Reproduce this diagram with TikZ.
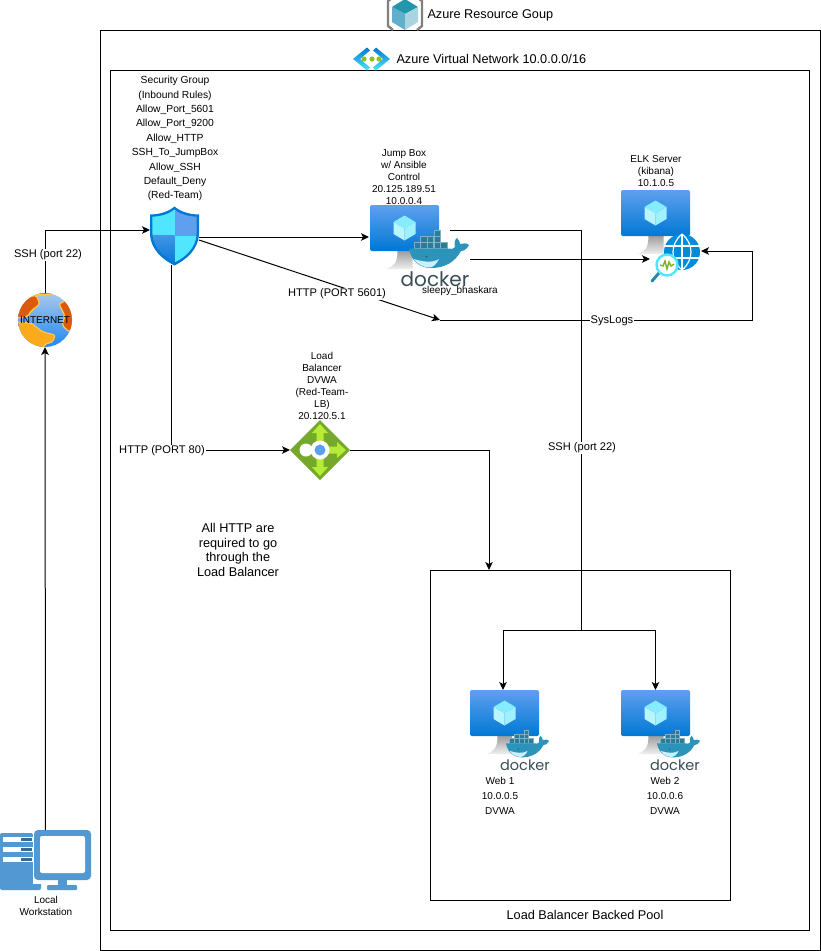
\documentclass[tikz,border=0pt]{standalone}
\usepackage{fontspec}
\setmainfont{Liberation Sans}
\newfontfamily\dockerfont{Poppins}
\usetikzlibrary{arrows.meta}

\definecolor{azuretop}{HTML}{5EA0EF}
\definecolor{azurelow}{HTML}{0078D4}
\definecolor{cyanlight}{HTML}{50E6FF}
\definecolor{dockerink}{HTML}{384D54}
\definecolor{whaleblue}{HTML}{2C94BA}
\definecolor{crate}{HTML}{2B7C99}
\definecolor{pcblue}{HTML}{5299D3}
\definecolor{lbgreen}{HTML}{76A82C}
\definecolor{lblight}{HTML}{B4EC36}
\definecolor{landdark}{HTML}{DE5A0B}
\definecolor{landlight}{HTML}{FBAA1B}
\definecolor{landedge}{HTML}{FFC94F}
\definecolor{oceantop}{HTML}{A9C8E8}
\definecolor{oceanlow}{HTML}{1E88F5}

\tikzset{
  arr/.style={-{Stealth[length=8pt,width=7.5pt,inset=2pt]}},
  frame/.style={draw, line width=1pt},
  spot/.style={inner sep=0pt, outer sep=0pt},
  lbl/.style={font=\fontsize{10}{12}\selectfont, align=center, text=black, inner sep=0pt},
  rules/.style={font=\fontsize{10.3}{14.4}\selectfont, align=center, text=black, inner sep=0pt},
  flow/.style={font=\fontsize{11.1}{14}\selectfont, fill=white, text=black, inner sep=1pt},
  title/.style={font=\fontsize{12.7}{14.5}\selectfont, text=black, inner sep=0pt},
  dockerword/.style={text=dockerink, inner sep=0pt},
  pics/cube/.style={code={
    \fill[#1!40!white] (0,0) -- (0,12.5) -- (-11,6) -- (-11,-6) -- cycle;
    \fill[#1!55!white] (0,0) -- (0,12.5) -- (11,6) -- (11,-6) -- cycle;
    \fill[#1!70!white] (0,0) -- (-11,-6) -- (0,-12.5) -- (11,-6) -- cycle;
  }},
  pics/vmicon/.style={code={
    \shade[top color=black!40, bottom color=black!6]
      (-7,22) -- (8,22) -- (8,41) -- (-18,41) .. controls (-10,38) and (-7,35) .. (-7,22) -- cycle;
    \shade[top color=azuretop, bottom color=azurelow, rounded corners=2pt]
      (-34.5,-23) rectangle (34.5,23);
    \path (0,0) pic {cube=cyanlight};
  }},
  pics/whale/.style={code={
    \foreach \x/\y in {4.7/11.9,11.4/11.9,18/11.9,24.7/11.9,31.3/11.9,11.4/5.9,18/5.9,24.7/5.9,24.7/0}
      \filldraw[fill=crate, draw=crate!60!white, line width=0.3pt] (\x,\y) rectangle +(6.6,6);
    \fill[whaleblue] (0,18.5) -- (39,18.5) .. controls (42,19.5) and (45,19) .. (46,17)
      .. controls (45,13) and (46,9) .. (48,8) .. controls (50,10) and (51,12) .. (51,14)
      .. controls (54,13) and (58,13) .. (60,15) .. controls (58,19) and (55,21) .. (52,21)
      .. controls (46,32) and (36,38) .. (22,38) .. controls (10,38) and (2,30) .. (0,18.5) -- cycle;
    \fill[white!80!cyan] (5,29) .. controls (14,32) and (24,33) .. (30,29)
      .. controls (27,35) and (24,37) .. (21,37.5) .. controls (14,37.5) and (8,34) .. (5,29) -- cycle;
    \fill[dockerink] (17.5,26.5) circle (1pt);
  }},
  pics/shieldicon/.style={code={
    \def\shieldpath{(0,-29) .. controls (-7,-23) and (-17,-21) .. (-24.5,-21) -- (-24.5,-3)
      .. controls (-24.5,15) and (-10,25) .. (0,30) .. controls (10,25) and (24.5,15) .. (24.5,-3)
      -- (24.5,-21) .. controls (17,-21) and (7,-23) .. (0,-29) -- cycle}
    \fill[azurelow] \shieldpath;
    \begin{scope}
      \clip[scale=0.9] \shieldpath;
      \fill[cyanlight] (-26,-30) rectangle (0,0);
      \fill[azuretop] (0,-30) rectangle (26,0);
      \shade[top color=azuretop!70!azurelow, bottom color=azurelow] (-26,0) rectangle (0,30);
      \fill[cyanlight] (0,0) rectangle (26,30);
    \end{scope}
  }},
  pics/earth/.style={code={
    \begin{scope}
      \clip (0,0) circle (27);
      \shade[top color=oceantop, bottom color=oceanlow] (-27,-27) rectangle (27,27);
      \begin{scope}[draw=landedge, line width=1.2pt, rounded corners=2pt]
        \filldraw[fill=landdark] (-14,-30) -- (-11,-25) -- (8,-26) -- (16,-30) -- cycle;
        \filldraw[fill=landdark] (-30,-2) -- (-24,-20) -- (-9,-25) -- (-5,-16) -- (-13,-10) -- (-18,-3) -- cycle;
        \filldraw[fill=landdark] (14,-16) -- (22,-20) -- (31,-6) -- (29,10) -- (24,12) -- (17,5) -- (20,-4) -- cycle;
        \filldraw[fill=landlight] (-31,2) -- (-14,3) -- (-2,12) -- (10,15) -- (8,22) -- (0,24) -- (-3,31) -- (-31,31) -- cycle;
      \end{scope}
    \end{scope}
  }},
  pics/lbicon/.style={code={
    \fill[lbgreen] (-30,0) -- (0,-30) -- (30,0) -- (0,30) -- cycle;
    \foreach \a in {0,90,270}
      \fill[lblight, rotate=\a] (0,-3.5) -- (17,-3.5) -- (17,-8) -- (26,0) -- (17,8) -- (17,3.5) -- (0,3.5) -- cycle;
    \fill[white] (-14,0) circle (6.5);
    \fill[white] (-14,-3) rectangle (0,3);
    \fill[white] (0,0) circle (9.5);
    \fill[azuretop] (0,0) circle (5.5);
  }},
  pics/elkbadge/.style={code={
    \fill[azurelow!85!cyan] (0,0) circle (18);
    \begin{scope}[white, line width=1.2pt]
      \draw (-18,-6) -- (18,-6) (-18,6) -- (18,6);
      \draw (0,-18) -- (0,18);
      \draw (0,-18) .. controls (-12,-8) and (-12,8) .. (0,18);
      \draw (0,-18) .. controls (12,-8) and (12,8) .. (0,18);
    \end{scope}
    \draw[crate!90!cyan, line width=3pt, line cap=round] (-23,21) -- (-30,29);
    \filldraw[fill=white, draw=cyanlight, line width=2.4pt] (-15,13) circle (10.5);
    \draw[lbgreen!90!lime, line width=1.4pt] (-22,13) -- (-19,14) -- (-17,9) -- (-15,17) -- (-13,10) -- (-11,14) -- (-8,12);
  }},
  pics/pcicon/.style={code={
    \fill[pcblue, rounded corners=2pt] (0,3) -- (33,3) -- (33,50) -- (41,52) -- (41,60) -- (0,60) -- cycle;
    \foreach \y in {7,17,27} {
      \fill[white] (3,\y) rectangle (33,\y+5);
      \fill[pcblue!70!black] (21,\y+1) rectangle (32,\y+4);
    }
    \fill[white] (33,-1) rectangle (41,54);
    \fill[pcblue, rounded corners=4pt] (34,0) rectangle (91,50);
    \fill[white, rounded corners=2pt] (40,6) rectangle (85,43);
    \fill[pcblue] (58,50) rectangle (67,55);
    \fill[pcblue, rounded corners=1pt] (47,55) rectangle (77,60);
  }},
}

\begin{document}
\begin{tikzpicture}[x=1pt, y=-1pt, line width=1pt]
  \useasboundingbox (0,0) rectangle (821,951);

  % containers
  \node[frame, spot, anchor=north west, minimum width=720pt, minimum height=920pt] (group) at (100,30) {};
  \node[frame, spot, anchor=north west, minimum width=699pt, minimum height=860pt] (vnet) at (110,70) {};
  \node[frame, spot, anchor=north west, minimum width=300pt, minimum height=330pt] (pool) at (430,570) {};

  % group and network headers
  \fill[crate!80!cyan] (405,-1) -- (418,7) -- (405,14) -- (392,7) -- cycle;
  \fill[whaleblue!75!white] (392,7) -- (405,14) -- (405,30) -- (392,22) -- cycle;
  \fill[whaleblue!40!white] (418,7) -- (405,14) -- (405,30) -- (418,22) -- cycle;
  \draw[black!50, line width=2.4pt] (392,-2) -- (388,1) -- (388,26) -- (393,30);
  \draw[black!50, line width=2.4pt] (418,-2) -- (422,1) -- (422,26) -- (417,30);
  \node[title, anchor=west] (grouptitle) at (427,15) {Azure Resource Goup};
  \shade[top color=azurelow, bottom color=cyanlight] (353,59) -- (367,47.5) -- (370,50.5) -- (360,59) -- (370,67.5) -- (367,70.5) -- cycle;
  \shade[top color=azurelow, bottom color=cyanlight] (390,59) -- (376,47.5) -- (373,50.5) -- (383,59) -- (373,67.5) -- (376,70.5) -- cycle;
  \foreach \x in {364,372,379}
    \fill[lbgreen!70!lime] (\x,59) circle (2.6);
  \node[title, anchor=west] (vnettitle) at (396,59) {Azure Virtual Network 10.0.0.0/16};

  % icons
  \node[spot, minimum width=49pt, minimum height=59pt] (shield) at (174.5,235.5) {};
  \path (shield.center) pic {shieldicon};
  \node[spot, minimum width=69pt, minimum height=46pt] (jump) at (404.5,228) {};
  \path (jump.center) pic {vmicon};
  \node[spot, minimum width=69pt, minimum height=46pt] (elk) at (655.5,213) {};
  \path (elk.center) pic {vmicon};
  \path (682,252) pic {elkbadge};
  \node[spot, minimum width=69pt, minimum height=46pt] (webone) at (504.5,713) {};
  \path (webone.center) pic {vmicon};
  \node[spot, minimum width=69pt, minimum height=46pt] (webtwo) at (655.5,713) {};
  \path (webtwo.center) pic {vmicon};
  \node[spot, minimum width=54pt, minimum height=54pt] (inet) at (45,320) {};
  \path (inet.center) pic {earth};
  \node[spot, minimum width=60pt, minimum height=60pt] (lb) at (320,450) {};
  \path (lb.center) pic {lbicon};
  \node[spot, minimum width=91pt, minimum height=60pt] (local) at (45.5,860) {};
  \path (0,830) pic {pcicon};

  % ports
  \coordinate (shieldin) at (150,230);
  \coordinate (shieldjump) at (199,237);
  \coordinate (shieldhttp) at (199,240);
  \coordinate (shieldlow) at (171,265);
  \coordinate (jumpin) at (369,237);
  \coordinate (jumpout) at (450,230);
  \coordinate (whaleout) at (470,259);
  \coordinate (elkin) at (650,259);
  \coordinate (elklogs) at (701,251);
  \coordinate (logs) at (440,320);
  \coordinate (branch) at (581,630);

  % connectors
  \draw[arr] (local.north) -- (inet.south);
  \draw[arr] (inet.north) |- (shieldin);
  \draw[arr] (shieldjump) -- (jumpin);
  \draw[arr] (shieldhttp) -- (logs);
  \draw[arr] (logs) -- (752,320) -- (752,251) -- (elklogs);
  \draw[arr] (shieldlow) |- (lb.west);
  \draw[arr] (lb.east) -| (489,570);
  \draw (jumpout) -| (branch);
  \draw[arr] (branch) -| (503,690);
  \draw[arr] (branch) -| (webtwo.north);

  % docker marks go over the line that leaves the jump box
  \path (409,230) pic {whale};
  \path (506,730) pic[scale=0.72] {whale};
  \path (657,730) pic[scale=0.72] {whale};
  \draw[arr] (whaleout) -- (elkin);
  \node[dockerword, font=\dockerfont\fontsize{20}{20}\selectfont] (jumpdocker) at (435,279) {docker};
  \node[dockerword, font=\dockerfont\fontsize{14.5}{14.5}\selectfont] (webonedocker) at (525,765) {docker};
  \node[dockerword, font=\dockerfont\fontsize{14.5}{14.5}\selectfont] (webtwodocker) at (675,765) {docker};

  % texts
  \node[rules] (sgtext) at (175,138.7) {Security Group\\(Inbound Rules)\\Allow\_Port\_5601\\Allow\_Port\_9200\\Allow\_HTTP\\SSH\_To\_JumpBox\\Allow\_SSH\\Default\_Deny\\(Red-Team)};
  \node[lbl] (jumptext) at (404,177.5) {Jump Box\\w/ Ansible\\Control\\20.125.189.51\\10.0.0.4};
  \node[lbl] (elktext) at (656,171) {ELK Server\\(kibana)\\10.1.0.5};
  \node[lbl] (hostname) at (460,291) {sleepy\_bhaskara};
  \node[lbl] (lbtext) at (322,386) {Load\\Balancer\\DVWA\\(Red-Team-\\LB)\\20.120.5.1};
  \node[lbl] (inettext) at (45,320) {INTERNET};
  \node[lbl] (localtext) at (46,905.5) {Local\\Workstation};
  \node[lbl, font=\fontsize{10}{15}\selectfont] (webonetext) at (500,796) {Web 1\\10.0.0.5\\DVWA};
  \node[lbl, font=\fontsize{10}{15}\selectfont] (webtwotext) at (665,796) {Web 2\\10.0.0.6\\DVWA};
  \node[flow] (sshleft) at (48,255) {SSH (port 22)};
  \node[flow] (http5601) at (337,294) {HTTP (PORT 5601)};
  \node[flow] (syslabel) at (612,321) {SysLogs};
  \node[flow] (http80) at (162,451) {HTTP (PORT 80)};
  \node[flow] (sshmid) at (582,448) {SSH (port 22)};
  \node[title, align=center] (note) at (238,550) {All HTTP are\\required to go\\through the\\Load Balancer};
  \node[title] (pooltitle) at (585,915) {Load Balancer Backed Pool};
\end{tikzpicture}
\end{document}
